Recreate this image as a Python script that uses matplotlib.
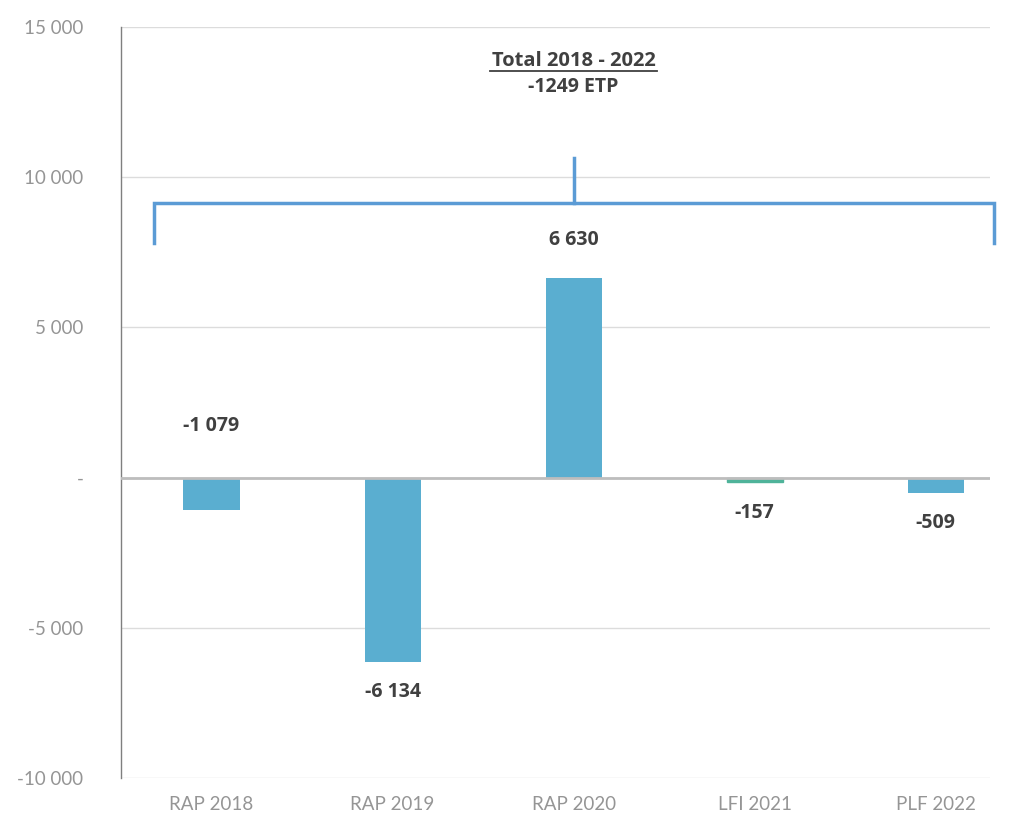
import matplotlib.pyplot as plt

categories = ['RAP 2018', 'RAP 2019', 'RAP 2020', 'LFI 2021', 'PLF 2022']
values = [-1079, -6134, 6630, -157, -509]
value_labels = ['-1 079', '-6 134', '6 630', '-157', '-509']
yticks = [-10000, -5000, 0, 5000, 10000, 15000]
ytick_labels = ['-10 000', '-5 000', '-', '5 000', '10 000', '15 000']
total_title = 'Total 2018 - 2022'
total_value = '-1249 ETP'

bar_color = '#5aaed0'
label_color = '#404040'
tick_color = '#959595'
bracket_color = '#5b9bd5'

fig = plt.figure(figsize=(10.12, 8.19), dpi=100)
ax = fig.add_axes([0.1196, 0.050, 0.8587, 0.917])

x = range(len(categories))
bars = ax.bar(x, values, width=0.31, color=bar_color, zorder=3)
bars[3].set_color('#4fb39a')

ax.set_ylim(-10000, 15000)
ax.set_xlim(-0.5, 4.3)
ax.set_yticks(yticks)
ax.set_yticklabels(ytick_labels, family='Lato', fontsize=13.5, color=tick_color)
ax.set_xticks(list(x))
ax.set_xticklabels(categories, family='Lato', fontsize=13.5, color=tick_color)
ax.tick_params(axis='both', length=0)
ax.tick_params(axis='y', pad=27)
ax.tick_params(axis='x', pad=13)

ax.grid(axis='y', color='#dcdcdc', linewidth=1, zorder=0)
ax.axhline(0, color='#bdbdbd', linewidth=2, zorder=4)
for s in ['top', 'right', 'bottom']:
    ax.spines[s].set_visible(False)
ax.spines['left'].set_color('#7f7f7f')
ax.spines['left'].set_linewidth(1)

# bar labels
lab_kw = dict(textcoords='offset points', ha='center', va='center', fontsize=14,
              fontweight='bold', color=label_color, family='Open Sans')
for i, (v, lab) in enumerate(zip(values, value_labels)):
    if i == 0:
        ax.annotate(lab, (i, 0), xytext=(0, 37), **lab_kw)
    elif v > 0:
        ax.annotate(lab, (i, v), xytext=(0, 28), **lab_kw)
    else:
        ax.annotate(lab, (i, v), xytext=(0, -22), **lab_kw)

# total bracket
bx0, bx1, bxm = -0.32, 4.32, 2
by, by_low, by_top = 9150, 7800, 10650
ax.plot([bx0, bx0, bx1, bx1], [by_low, by, by, by_low], color=bracket_color,
        linewidth=2.5, clip_on=False, zorder=5, solid_joinstyle='miter')
ax.plot([bxm, bxm], [by, by_top], color=bracket_color, linewidth=2.5, zorder=5)

ax.text(bxm, 13880, total_title, ha='center', va='center', fontsize=14.5,
        fontweight='bold', color=label_color, family='Open Sans')
ax.plot([1.54, 2.46], [13540, 13540], color=label_color, linewidth=1.3)
ax.text(bxm, 13020, total_value, ha='center', va='center', fontsize=14,
        fontweight='bold', color=label_color, family='Open Sans')

fig.savefig('out.png', dpi=100)
